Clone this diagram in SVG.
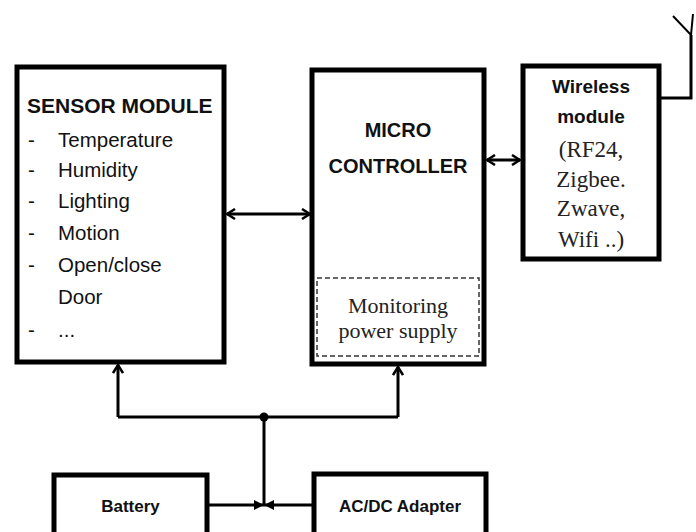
<svg xmlns="http://www.w3.org/2000/svg" width="696" height="532" viewBox="0 0 696 532">
  <style>
    .box { fill: #ffffff; stroke: #000; stroke-width: 5; }
    .dash { fill: none; stroke: #333; stroke-width: 1.5; stroke-dasharray: 5 3; }
    .wire { fill: none; stroke: #000; stroke-width: 3; }
    .sans { font-family: "Liberation Sans", Arial, sans-serif; fill: #111; }
    .bold { font-weight: bold; }
    .serif { font-family: "Liberation Serif", "Times New Roman", serif; fill: #222; }
    .mid { text-anchor: middle; }
  </style>
  <defs>
    <marker id="chev" viewBox="0 0 10 12" refX="9" refY="6" markerWidth="10" markerHeight="12" markerUnits="userSpaceOnUse" orient="auto-start-reverse">
      <path d="M1,1 L9,6 L1,11" fill="none" stroke="#000" stroke-width="2.5"/>
    </marker>
    <marker id="tri" viewBox="0 0 10 10" refX="10" refY="5" markerWidth="10" markerHeight="10" markerUnits="userSpaceOnUse" orient="auto">
      <path d="M0,0 L10,5 L0,10 Z" fill="#000"/>
    </marker>
  </defs>

  <g id="sensor-module">
    <rect class="box" x="17" y="67" width="207" height="295"/>
    <text class="sans bold" x="27" y="113" font-size="21">SENSOR MODULE</text>
    <g class="sans" font-size="20.5">
      <text x="28" y="147">-</text><text x="58" y="147">Temperature</text>
      <text x="28" y="177">-</text><text x="58" y="177">Humidity</text>
      <text x="28" y="208">-</text><text x="58" y="208">Lighting</text>
      <text x="28" y="240">-</text><text x="58" y="240">Motion</text>
      <text x="28" y="272">-</text><text x="58" y="272">Open/close</text>
      <text x="58" y="304">Door</text>
      <text x="28" y="337">-</text><text x="58" y="337">...</text>
    </g>
  </g>

  <g id="micro-controller">
    <rect class="box" x="312" y="70" width="172" height="294"/>
    <text class="sans bold mid" x="398" y="137" font-size="20">MICRO</text>
    <text class="sans bold mid" x="398" y="173" font-size="20">CONTROLLER</text>
    <g id="monitoring-power-supply">
      <rect class="dash" x="317" y="278" width="162" height="78"/>
      <text class="serif mid" x="398" y="313" font-size="22">Monitoring</text>
      <text class="serif mid" x="398" y="338" font-size="22">power supply</text>
    </g>
  </g>

  <g id="wireless-module">
    <rect class="box" x="523" y="66" width="136" height="193"/>
    <text class="sans bold mid" x="591" y="93" font-size="19">Wireless</text>
    <text class="sans bold mid" x="591" y="123" font-size="19">module</text>
    <text class="serif mid" x="591" y="157" font-size="23">(RF24,</text>
    <text class="serif mid" x="591" y="187" font-size="23">Zigbee.</text>
    <text class="serif mid" x="591" y="216" font-size="23">Zwave,</text>
    <text class="serif mid" x="591" y="247" font-size="23">Wifi ..)</text>
  </g>

  <g id="battery">
    <rect class="box" x="54" y="475" width="153" height="70"/>
    <text class="sans bold mid" x="130.5" y="512" font-size="17">Battery</text>
  </g>

  <g id="acdc-adapter">
    <rect class="box" x="314" y="474" width="172" height="70"/>
    <text class="sans bold mid" x="400" y="512" font-size="17">AC/DC Adapter</text>
  </g>

  <g id="connectors">
    <line class="wire" x1="227" y1="214" x2="310" y2="214" marker-start="url(#chev)" marker-end="url(#chev)"/>
    <line class="wire" x1="487" y1="160" x2="520" y2="160" marker-start="url(#chev)" marker-end="url(#chev)"/>
    <polyline class="wire" points="659,98 691,98 691,35"/>
    <polyline fill="none" stroke="#000" stroke-width="2" points="673,16 691,35 693,14"/>
    <path class="wire" d="M118,417 H398"/>
    <line class="wire" x1="118" y1="417" x2="118" y2="365" marker-end="url(#chev)"/>
    <line class="wire" x1="398" y1="417" x2="398" y2="367" marker-end="url(#chev)"/>
    <circle cx="264" cy="417" r="4.5" fill="#000"/>
    <line class="wire" x1="264" y1="417" x2="264" y2="505"/>
    <line class="wire" x1="209" y1="505" x2="264" y2="505" marker-end="url(#tri)"/>
    <line class="wire" x1="312" y1="505" x2="264" y2="505" marker-end="url(#tri)"/>
  </g>
</svg>
